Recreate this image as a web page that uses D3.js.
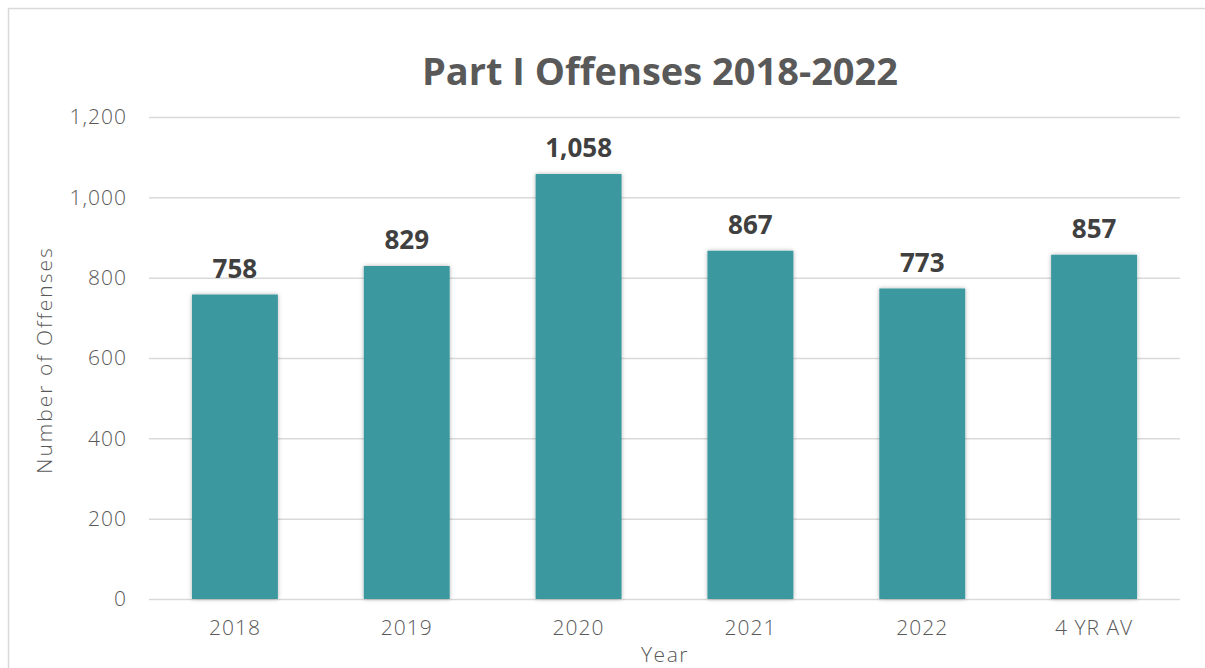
<!DOCTYPE html>
<html>
<head>
<meta charset="utf-8">
<script src="https://cdn.jsdelivr.net/npm/d3@7"></script>
<style>
  body { margin: 0; background: #fff; overflow: hidden; }
  svg { display: block; }
</style>
</head>
<body>
<div id="chart"></div>
<script>
// chart data
var categories = ['2018', '2019', '2020', '2021', '2022', '4 YR AV'];
var offenses = [758, 829, 1058, 867, 773, 857];
var yTicks = [0, 200, 400, 600, 800, 1000, 1200];

var W = 1205, H = 668;
var m = { top: 117, right: 25, bottom: 69, left: 149 };
var width = W - m.left - m.right;
var height = H - m.top - m.bottom;

var lightFont = "'Century Gothic', 'Open Sans', sans-serif";
var boldFont = "'Century Gothic', 'Open Sans', sans-serif";

var svg = d3.select('#chart').append('svg')
  .attr('width', W)
  .attr('height', H);

// soft shadow on the bars
var defs = svg.append('defs');
var f = defs.append('filter').attr('id', 'shadow')
  .attr('x', '-20%').attr('y', '-10%').attr('width', '140%').attr('height', '120%');
f.append('feDropShadow')
  .attr('dx', 0).attr('dy', 0)
  .attr('stdDeviation', 2)
  .attr('flood-color', '#000')
  .attr('flood-opacity', 0.3);

// chart frame (only top and left edges fall inside the picture)
svg.append('path')
  .attr('d', 'M8.5,' + H + 'V8.5H' + W)
  .attr('fill', 'none')
  .attr('stroke', '#d9d9d9')
  .attr('stroke-width', 1.5);

var g = svg.append('g')
  .attr('transform', 'translate(' + m.left + ',' + m.top + ')');

var x = d3.scaleBand()
  .domain(categories)
  .range([0, width])
  .paddingInner(0.5)
  .paddingOuter(0.25);

var y = d3.scaleLinear()
  .domain([0, 1200])
  .range([height, 0]);

// gridlines + y labels
var yAxis = g.append('g')
  .call(d3.axisLeft(y).tickValues(yTicks).tickSize(-width).tickFormat(d3.format(',')).tickPadding(22));
yAxis.select('.domain').remove();
yAxis.selectAll('.tick line')
  .attr('stroke', '#d9d9d9')
  .attr('stroke-width', 1.5);
yAxis.selectAll('.tick text')
  .attr('fill', '#595959')
  .style('font-family', lightFont)
  .style('font-weight', 300)
  .style('letter-spacing', '1px')
  .style('font-size', '21px');

// bars
g.selectAll('.bar')
  .data(offenses)
  .enter()
  .append('rect')
  .attr('class', 'bar')
  .attr('x', function(d, i) { return x(categories[i]); })
  .attr('y', function(d) { return y(d); })
  .attr('width', x.bandwidth())
  .attr('height', function(d) { return height - y(d); })
  .attr('fill', '#3a989e')
  .attr('filter', 'url(#shadow)');

// value labels
g.selectAll('.val')
  .data(offenses)
  .enter()
  .append('text')
  .attr('class', 'val')
  .attr('x', function(d, i) { return x(categories[i]) + x.bandwidth() / 2; })
  .attr('y', function(d) { return y(d) - 17; })
  .attr('text-anchor', 'middle')
  .attr('fill', '#404040')
  .style('font-family', boldFont)
  .style('font-weight', 'bold')
  .style('font-size', '26px')
  .text(function(d) { return d3.format(',')(d); });

// x labels
var xAxis = g.append('g')
  .attr('transform', 'translate(0,' + height + ')')
  .call(d3.axisBottom(x).tickSize(0).tickPadding(21));
xAxis.select('.domain').remove();
xAxis.selectAll('.tick text')
  .attr('fill', '#595959')
  .style('font-family', lightFont)
  .style('font-weight', 300)
  .style('letter-spacing', '1px')
  .style('font-size', '21px');

// titles
svg.append('text')
  .attr('x', 660)
  .attr('y', 85)
  .attr('text-anchor', 'middle')
  .attr('fill', '#595959')
  .style('font-family', boldFont)
  .style('font-weight', 'bold')
  .style('font-size', '38px')
  .text('Part I Offenses 2018-2022');

svg.append('text')
  .attr('x', 665)
  .attr('y', 662)
  .attr('text-anchor', 'middle')
  .attr('fill', '#595959')
  .style('font-family', lightFont)
  .style('font-weight', 300)
  .style('letter-spacing', '1.5px')
  .style('font-size', '21px')
  .text('Year');

svg.append('text')
  .attr('transform', 'translate(52,360) rotate(-90)')
  .attr('text-anchor', 'middle')
  .attr('fill', '#595959')
  .style('font-family', lightFont)
  .style('font-weight', 300)
  .style('letter-spacing', '2px')
  .style('font-size', '21px')
  .text('Number of Offenses');
</script>
</body>
</html>
